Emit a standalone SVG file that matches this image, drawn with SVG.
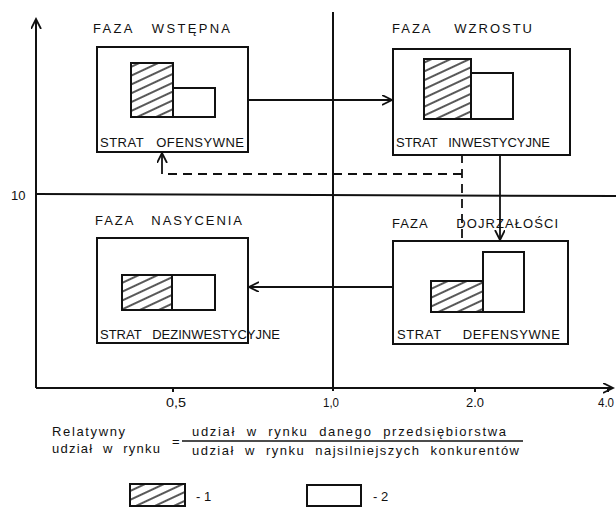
<svg xmlns="http://www.w3.org/2000/svg" width="616" height="508" viewBox="0 0 616 508" xml:space="preserve">
<style>
  .t { font-family: "Liberation Sans", "DejaVu Sans", sans-serif; font-size: 13px; fill: #111; white-space: pre; }
  .s { font-family: "Liberation Sans", "DejaVu Sans", sans-serif; font-size: 13px; fill: #111; white-space: pre; }
  .box { fill: #fff; stroke: #111; stroke-width: 2; }
  .bar { stroke: #111; stroke-width: 2; }
  .hat { fill: url(#hatch); }
  .wht { fill: #fff; }
  .ax { stroke: #111; stroke-width: 2; fill: none; }
  .con { stroke: #111; stroke-width: 1.8; fill: none; }
  .dash { stroke: #111; stroke-width: 1.8; fill: none; stroke-dasharray: 9 6; }
</style>
<defs>
  <pattern id="hatch" patternUnits="userSpaceOnUse" width="8" height="8" patternTransform="rotate(-25)">
    <rect width="8" height="8" fill="#fff"/>
    <line x1="0" y1="4" x2="8" y2="4" stroke="#111" stroke-width="1.4"/>
  </pattern>
  <marker id="arr" markerUnits="userSpaceOnUse" markerWidth="12" markerHeight="12" refX="10" refY="5" orient="auto">
    <path d="M0,0 L10,5 L0,10" fill="none" stroke="#111" stroke-width="1.8"/>
  </marker>
</defs>
<rect width="616" height="508" fill="#fff"/>

<g id="axes">
  <path class="ax" d="M36,388 V19" marker-end="url(#arr)"/>
  <path class="ax" d="M36,388 H613" marker-end="url(#arr)"/>
  <line class="ax" x1="333" y1="12" x2="333" y2="391"/>
  <line class="ax" x1="36" y1="194" x2="616" y2="196"/>
  <line class="ax" x1="173" y1="388" x2="173" y2="392"/>
  <line class="ax" x1="475" y1="388" x2="475" y2="392"/>
  <line class="ax" x1="608" y1="388" x2="608" y2="392"/>
  <text class="t" x="11" y="200" font-size="12">10</text>
  <text class="t" x="166" y="407" textLength="20" lengthAdjust="spacingAndGlyphs">0,5</text>
  <text class="t" x="323" y="407" textLength="16" lengthAdjust="spacingAndGlyphs">1,0</text>
  <text class="t" x="466" y="407" textLength="18" lengthAdjust="spacingAndGlyphs">2.0</text>
  <text class="t" x="598" y="407" textLength="16" lengthAdjust="spacingAndGlyphs">4.0</text>
</g>

<g id="faza-wstepna">
  <text class="t" x="93" y="33" textLength="137" lengthAdjust="spacing">FAZA   WSTĘPNA</text>
  <rect class="box" x="97" y="47" width="151" height="105"/>
  <rect class="bar hat" x="131" y="63" width="42" height="54"/>
  <rect class="bar wht" x="173" y="88" width="42" height="29"/>
  <text class="t" x="100" y="147" textLength="144" lengthAdjust="spacing">STRAT   OFENSYWNE</text>
</g>

<g id="faza-wzrostu">
  <text class="t" x="392" y="33" textLength="140" lengthAdjust="spacing">FAZA    WZROSTU</text>
  <rect class="box" x="393" y="49" width="177" height="106"/>
  <rect class="bar hat" x="424" y="59" width="47" height="60"/>
  <rect class="bar wht" x="471" y="73" width="42" height="46"/>
  <text class="t" x="396" y="147" textLength="154" lengthAdjust="spacing">STRAT   INWESTYCYJNE</text>
</g>

<g id="faza-nasycenia">
  <text class="t" x="95" y="225" textLength="147" lengthAdjust="spacing">FAZA   NASYCENIA</text>
  <rect class="box" x="97" y="238" width="151" height="105"/>
  <rect class="bar hat" x="122" y="275" width="50" height="35"/>
  <rect class="bar wht" x="172" y="275" width="43" height="35"/>
  <text class="t" x="100" y="339" textLength="180" lengthAdjust="spacing">STRAT   DEZINWESTYCYJNE</text>
</g>

<g id="faza-dojrzalosci">
  <text class="t" x="392" y="228" textLength="166" lengthAdjust="spacing">FAZA      DOJRZAŁOŚCI</text>
  <rect class="box" x="393" y="241" width="175" height="103"/>
  <rect class="bar hat" x="431" y="281" width="52" height="31"/>
  <rect class="bar wht" x="483" y="252" width="41" height="60"/>
  <text class="t" x="397" y="339" textLength="163" lengthAdjust="spacing">STRAT     DEFENSYWNE</text>
</g>

<g id="connectors">
  <path class="con" d="M248,100 H392" marker-end="url(#arr)"/>
  <path class="con" d="M500,155 V240" marker-end="url(#arr)"/>
  <path class="con" d="M393,287 H249" marker-end="url(#arr)"/>
  <path class="dash" d="M462,238 V155"/>
  <path class="dash" d="M462,174 H168"/>
  <path class="con" d="M162,174 V153" marker-end="url(#arr)"/>
</g>

<g id="formula">
  <text class="s" x="52" y="436" textLength="73" lengthAdjust="spacing">Relatywny</text>
  <text class="s" x="52" y="453" textLength="108" lengthAdjust="spacing">udział  w  rynku</text>
  <text class="s" x="172" y="446">=</text>
  <line x1="182" y1="441" x2="523" y2="441" stroke="#111" stroke-width="1.5"/>
  <text class="s" x="192" y="436" textLength="314" lengthAdjust="spacing">udział  w  rynku  danego  przedsiębiorstwa</text>
  <text class="s" x="192" y="455" textLength="327" lengthAdjust="spacing">udział  w  rynku  najsilniejszych  konkurentów</text>
</g>

<g id="legend">
  <rect class="bar hat" x="130" y="484" width="55" height="22"/>
  <text class="s" x="196" y="501">- 1</text>
  <rect class="bar wht" x="307" y="485" width="54" height="21"/>
  <text class="s" x="373" y="501">- 2</text>
</g>
</svg>
